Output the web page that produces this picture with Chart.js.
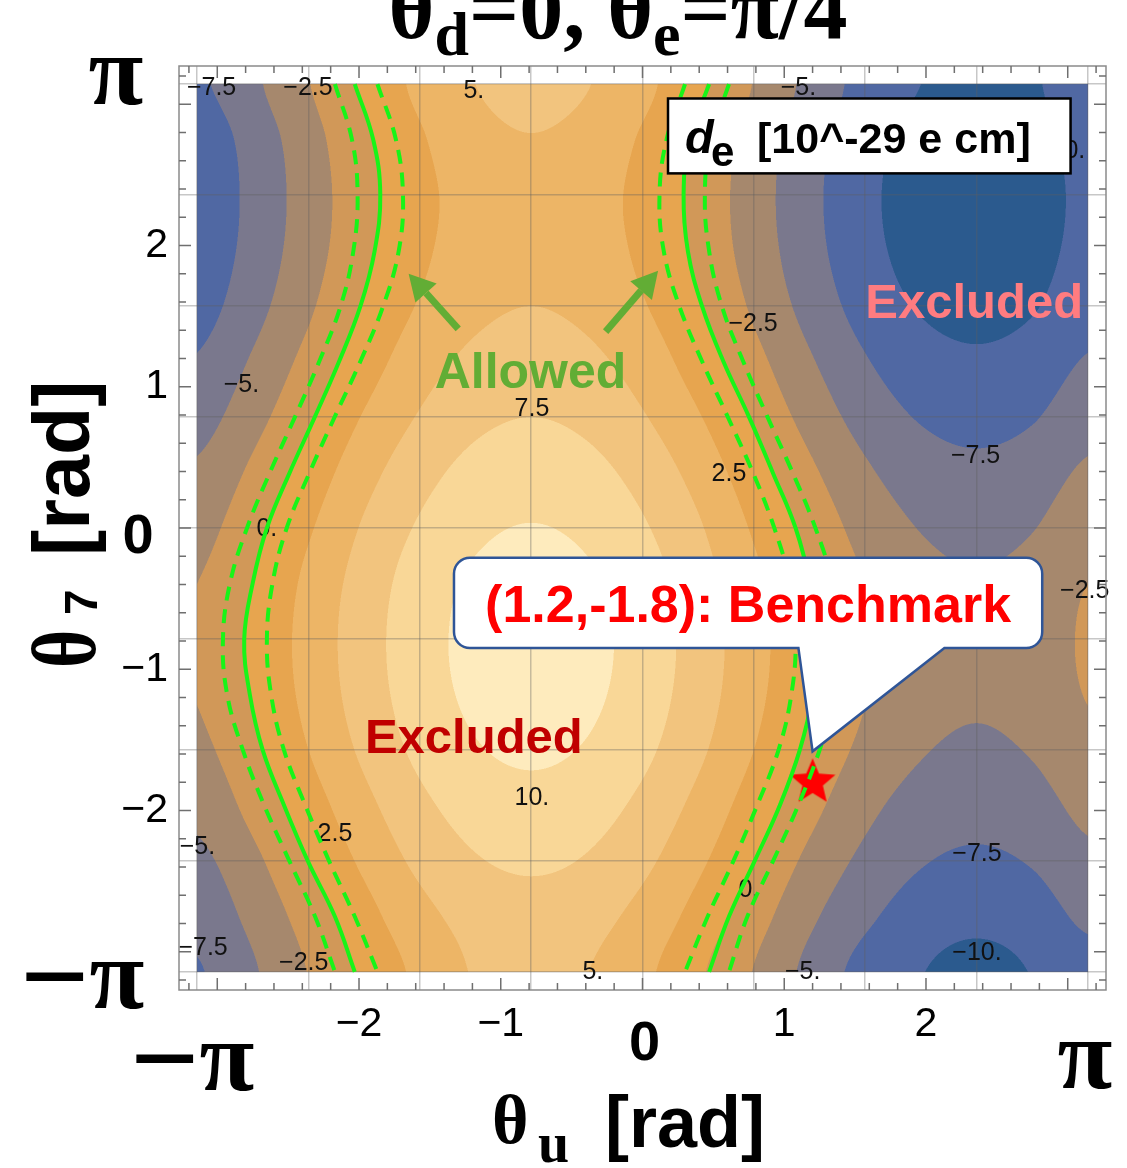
<!DOCTYPE html>
<html>
<head>
<meta charset="utf-8">
<title>d_e contours</title>
<script src="https://cdn.jsdelivr.net/npm/chart.js@4.4.1/dist/chart.umd.min.js"></script>
<style>
  html, body { margin: 0; padding: 0; background: #ffffff; }
  canvas { display: block; }
</style>
</head>
<body>
<canvas id="deChart" width="1127" height="1168"></canvas>
<script>
// ---- values ----
// grid nodes (rad): theta_u left -> right, theta_7 top -> bottom
const thetaU = [-3.1416, -2.75, -2.36, -1.96, -1.57, -1.18, -0.79, -0.39, 0, 0.39, 0.79, 1.18, 1.57, 1.96, 2.36, 2.75, 3.1416];
const theta7 = [3.1416, 2.75, 2.36, 1.96, 1.57, 1.18, 0.79, 0.39, 0, -0.39, -0.79, -1.18, -1.57, -1.96, -2.36, -2.75, -3.1416];

// d_e [10^-29 e cm] at the nodes, one row per theta_7 node
const deGrid = [
  [-7.9, -5.5, -2.6,  0.4, 3.1, 5.0,  5.7,  5.1, 3.2,  0.4, -2.6, -5.7, -8.4, -10.0, -11.0, -10.3, -8.4],
  [-9.1, -6.5, -3.5, -0.4, 2.2, 4.2,  4.9,  4.2, 2.2, -0.4, -3.5, -6.5, -9.1, -10.8, -11.4, -10.8, -9.1],
  [-9.4, -6.8, -3.8, -0.8, 1.8, 3.5,  4.1,  3.5, 1.8, -0.8, -3.8, -6.8, -9.4, -11.1, -11.7, -11.1, -9.4],
  [-9.2, -6.6, -3.6, -0.6, 2.0, 3.7,  4.3,  3.7, 2.0, -0.6, -3.6, -6.6, -9.2, -10.9, -11.5, -10.9, -9.2],
  [-8.5, -5.9, -2.9,  0.2, 2.7, 4.4,  5.0,  4.4, 2.7,  0.2, -2.9, -5.9, -8.5, -10.2, -10.8, -10.2, -8.5],
  [-7.3, -4.7, -1.7,  1.3, 3.9, 5.6,  6.2,  5.6, 3.9,  1.3, -1.7, -4.7, -7.3,  -9.0,  -9.6,  -9.0, -7.3],
  [-6.0, -3.4, -0.4,  2.7, 5.2, 6.9,  7.5,  6.9, 5.2,  2.7, -0.4, -3.4, -6.0,  -7.7,  -8.3,  -7.7, -6.0],
  [-4.6, -2.0,  1.0,  4.1, 6.6, 8.3,  8.9,  8.3, 6.6,  4.1,  1.0, -2.0, -4.6,  -6.3,  -6.9,  -6.3, -4.6],
  [-3.4, -0.8,  2.2,  5.3, 7.8, 9.5, 10.1,  9.5, 7.8,  5.3,  2.2, -0.8, -3.4,  -5.1,  -5.7,  -5.1, -3.4],
  [-2.5,  0.0,  3.1,  6.1, 8.7, 10.4, 11.0, 10.4, 8.7, 6.1,  3.1,  0.0, -2.5,  -4.2,  -4.8,  -4.2, -2.5],
  [-2.2,  0.4,  3.4,  6.4, 9.0, 10.7, 11.3, 10.7, 9.0, 6.4,  3.4,  0.4, -2.2,  -3.9,  -4.5,  -3.9, -2.2],
  [-2.4,  0.2,  3.2,  6.2, 8.8, 10.5, 11.1, 10.5, 8.8, 6.2,  3.2,  0.2, -2.4,  -4.1,  -4.7,  -4.1, -2.4],
  [-3.1, -0.6,  2.5,  5.5, 8.1, 9.8, 10.4,  9.8, 8.1,  5.5,  2.5, -0.6, -3.1,  -4.8,  -5.4,  -4.8, -3.1],
  [-4.3, -1.7,  1.3,  4.3, 6.9, 8.6,  9.2,  8.6, 6.9,  4.3,  1.3, -1.7, -4.3,  -6.0,  -6.6,  -6.0, -4.3],
  [-5.6, -3.1,  0.0,  3.0, 5.6, 7.3,  7.9,  7.3, 5.6,  3.0,  0.0, -3.1, -5.6,  -7.3,  -7.9,  -7.3, -5.6],
  [-6.7, -4.3, -1.4,  1.6, 4.2, 5.9,  6.5,  5.9, 4.2,  1.6, -1.4, -4.5, -7.0,  -8.7,  -9.3,  -8.7, -7.0],
  [-7.7, -5.3, -2.4,  0.5, 3.1, 5.2,  5.8,  5.05, 3.1, 0.4, -2.6, -5.7, -8.4,  -9.9, -10.9,  -9.9, -8.4]
];
const contourLevels = [-10, -7.5, -5, -2.5, 0, 2.5, 5, 7.5, 10];
const bandColors = ['#2b5a8e', '#5068a3', '#7a788d', '#a6886d', '#d19858', '#e7a54f', '#edb566', '#f2c47e', '#f9d797', '#feebbd'];

// allowed band: theta_u of the solid (d_e = 0) and dashed edges, one value per theta_7 node
const leftSolid  = [-2.03, -1.90, -1.85, -1.89, -1.99, -2.14, -2.31, -2.49, -2.65, -2.75, -2.81, -2.77, -2.68, -2.53, -2.36, -2.17, -2.03];
const leftInner  = [-1.87, -1.74, -1.69, -1.72, -1.83, -1.99, -2.17, -2.35, -2.51, -2.61, -2.65, -2.62, -2.53, -2.38, -2.21, -2.03, -1.87];
const leftOuter  = [-2.17, -2.05, -2.01, -2.04, -2.13, -2.28, -2.45, -2.63, -2.79, -2.91, -2.96, -2.93, -2.82, -2.67, -2.49, -2.31, -2.17];
const rightSolid = [0.47, 0.33, 0.29, 0.32, 0.42, 0.57, 0.75, 0.92, 1.08, 1.18, 1.23, 1.20, 1.11, 0.97, 0.79, 0.61, 0.47];
const rightInner = [0.30, 0.17, 0.12, 0.15, 0.26, 0.42, 0.60, 0.78, 0.93, 1.04, 1.08, 1.05, 0.96, 0.81, 0.64, 0.46, 0.30];
const rightOuter = [0.61, 0.48, 0.44, 0.47, 0.56, 0.71, 0.88, 1.06, 1.22, 1.34, 1.39, 1.36, 1.25, 1.10, 0.92, 0.74, 0.61];

const benchmarkU = [1.2];
const benchmarkT = [-1.8];

const xTickValues = [-2, -1, 1, 2];
const yTickValues = [-2, -1, 1, 2];
const gridValues = [-3.1416, -2.3562, -1.5708, -0.7854, 0, 0.7854, 1.5708, 2.3562, 3.1416];

// contour labels as placed by the plotting program
const labelText = ['−7.5', '−2.5', '5.', '−5.', '−10.', '−2.5', '−5.', '7.5', '2.5', '−7.5', '0.', '−2.5', '10.', '−5.', '2.5', '−7.5', '−2.5', '5.', '0.', '−7.5', '−10.', '−5.'];
const labelU = [-3.04, -2.36, -1.19, 1.10, 2.95, 0.78, -2.83, -0.78, 0.61, 2.35, -2.65, 3.12, -0.78, -3.14, -2.17, -3.10, -2.39, -0.35, 0.75, 2.36, 2.36, 1.13];
const labelT = [3.11, 3.11, 3.09, 3.11, 2.67, 1.44, 1.01, 0.84, 0.38, 0.51, -0.01, -0.45, -1.91, -2.26, -2.17, -2.97, -3.08, -3.14, -2.56, -2.31, -3.01, -3.14];

const SANS = '"Liberation Sans", Arial, sans-serif';
const SERIF = '"Liberation Serif", "Times New Roman", serif';
const GREEN = 'rgb(24, 244, 24)';

function curve(values, dashed) {
  return {
    data: theta7.map((t, k) => ({ x: values[k], y: t })),
    showLine: true,
    borderColor: GREEN,
    borderWidth: 4,
    borderDash: dashed ? [14, 9] : [],
    pointRadius: 0,
    tension: 0.4
  };
}

function starImage(r) {
  const size = Math.ceil(2 * r + 4);
  const c = document.createElement('canvas');
  c.width = size; c.height = size;
  const g = c.getContext('2d');
  g.fillStyle = '#ff0000';
  g.beginPath();
  for (let k = 0; k < 10; k++) {
    const a = -Math.PI / 2 + k * Math.PI / 5;
    const rr = k % 2 ? r * 0.45 : r;
    g.lineTo(size / 2 + rr * Math.cos(a), size / 2 + rr * Math.sin(a));
  }
  g.closePath();
  g.fill();
  return c;
}

// Catmull-Rom sampling of the node grid (edges clamped)
function crWeights(f) {
  const f2 = f * f, f3 = f2 * f;
  return [(-f3 + 2 * f2 - f) / 2, (3 * f3 - 5 * f2 + 2) / 2, (-3 * f3 + 4 * f2 + f) / 2, (f3 - f2) / 2];
}
function sampleGrid(gx, gy, n) {
  const ix = Math.min(n - 1, Math.floor(gx)), iy = Math.min(n - 1, Math.floor(gy));
  const wx = crWeights(gx - ix), wy = crWeights(gy - iy);
  const cl = i => Math.max(0, Math.min(n, i));
  let v = 0;
  for (let m = 0; m < 4; m++) {
    const row = deGrid[cl(iy + m - 1)];
    let s = 0;
    for (let q = 0; q < 4; q++) s += wx[q] * row[cl(ix + q - 1)];
    v += wy[m] * s;
  }
  return v;
}
function hexToRgb(h) {
  const n = parseInt(h.slice(1), 16);
  return [(n >> 16) & 255, (n >> 8) & 255, n & 255];
}

let fieldImage = null;
const contourFill = {
  id: 'contourFill',
  beforeDraw(chart) {
    const { ctx } = chart;
    const xs = chart.scales.x, ys = chart.scales.y;
    ctx.save();
    ctx.fillStyle = '#ffffff';
    ctx.fillRect(0, 0, chart.width, chart.height);
    const x0 = Math.round(xs.getPixelForValue(thetaU[0]));
    const x1 = Math.round(xs.getPixelForValue(thetaU[thetaU.length - 1]));
    const y0 = Math.round(ys.getPixelForValue(theta7[0]));
    const y1 = Math.round(ys.getPixelForValue(theta7[theta7.length - 1]));
    if (!fieldImage) {
      const w = x1 - x0, h = y1 - y0, n = thetaU.length - 1;
      const off = document.createElement('canvas');
      off.width = w; off.height = h;
      const g = off.getContext('2d');
      const img = g.createImageData(w, h);
      const rgb = bandColors.map(hexToRgb);
      const uSpan = thetaU[n] - thetaU[0], tSpan = theta7[0] - theta7[n];
      const sub = [0.25, 0.75];
      for (let py = 0; py < h; py++) {
        for (let px = 0; px < w; px++) {
          let r = 0, gg = 0, b = 0;
          for (const sy of sub) {
            const t = ys.getValueForPixel(y0 + py + sy);
            const gy = Math.max(0, Math.min(n, (theta7[0] - t) / tSpan * n));
            for (const sx of sub) {
              const u = xs.getValueForPixel(x0 + px + sx);
              const gx = Math.max(0, Math.min(n, (u - thetaU[0]) / uSpan * n));
              const v = sampleGrid(gx, gy, n);
              let k = 0;
              while (k < contourLevels.length && v >= contourLevels[k]) k++;
              r += rgb[k][0]; gg += rgb[k][1]; b += rgb[k][2];
            }
          }
          const o = (py * w + px) * 4;
          img.data[o] = r / 4; img.data[o + 1] = gg / 4; img.data[o + 2] = b / 4; img.data[o + 3] = 255;
        }
      }
      g.putImageData(img, 0, 0);
      fieldImage = off;
    }
    ctx.drawImage(fieldImage, x0, y0);
    ctx.restore();
  }
};

const contourLabels = {
  id: 'contourLabels',
  beforeDatasetsDraw(chart) {
    const { ctx } = chart;
    const xs = chart.scales.x, ys = chart.scales.y;
    ctx.save();
    ctx.font = `25px ${SANS}`;
    ctx.fillStyle = '#111111';
    ctx.textAlign = 'center';
    ctx.textBaseline = 'middle';
    labelText.forEach((s, k) => ctx.fillText(s, xs.getPixelForValue(labelU[k]), ys.getPixelForValue(labelT[k])));
    ctx.restore();
  }
};

function drawPieces(ctx, pieces, x, y) {
  let cx = x;
  for (const p of pieces) {
    ctx.font = p[1];
    ctx.fillText(p[0], cx, y + (p[2] || 0));
    cx += ctx.measureText(p[0]).width;
  }
  return cx;
}
function piecesWidth(ctx, pieces) {
  let w = 0;
  for (const p of pieces) { ctx.font = p[1]; w += ctx.measureText(p[0]).width; }
  return w;
}
function arrow(ctx, x0, y0, x1, y1, lw, head) {
  const a = Math.atan2(y1 - y0, x1 - x0);
  const bx = x1 - head * Math.cos(a), by = y1 - head * Math.sin(a);
  const hw = head * 0.55;
  ctx.lineWidth = lw;
  ctx.beginPath(); ctx.moveTo(x0, y0); ctx.lineTo(bx, by); ctx.stroke();
  ctx.beginPath();
  ctx.moveTo(x1, y1);
  ctx.lineTo(bx + hw * Math.sin(a), by - hw * Math.cos(a));
  ctx.lineTo(bx - hw * Math.sin(a), by + hw * Math.cos(a));
  ctx.closePath(); ctx.fill();
}

const overlay = {
  id: 'overlay',
  afterDraw(chart) {
    const { ctx, chartArea: a } = chart;
    const xs = chart.scales.x, ys = chart.scales.y;
    const X = v => xs.getPixelForValue(v), Y = v => ys.getPixelForValue(v);
    ctx.save();

    // frame with inward ticks on all four sides
    ctx.strokeStyle = '#8a8a8a';
    ctx.lineWidth = 1.5;
    ctx.strokeRect(a.left, a.top, a.right - a.left, a.bottom - a.top);
    ctx.strokeStyle = '#6f6f6f';
    ctx.beginPath();
    for (let k = -16; k <= 16; k++) {
      const v = k / 5, len = k % 5 === 0 ? 12 : 7;
      ctx.moveTo(X(v), a.bottom); ctx.lineTo(X(v), a.bottom - len);
      ctx.moveTo(X(v), a.top); ctx.lineTo(X(v), a.top + len);
      ctx.moveTo(a.left, Y(v)); ctx.lineTo(a.left + len, Y(v));
      ctx.moveTo(a.right, Y(v)); ctx.lineTo(a.right - len, Y(v));
    }
    ctx.stroke();

    ctx.fillStyle = '#000000';
    ctx.textBaseline = 'alphabetic';

    // title (top part cut off by the page edge)
    const title = [['θ', `bold 88px ${SERIF}`], ['d', `bold 62px ${SERIF}`, 17], ['=0, θ', `bold 88px ${SERIF}`], ['e', `bold 62px ${SERIF}`, 17], ['=π/4', `bold 88px ${SERIF}`]];
    ctx.textAlign = 'left';
    drawPieces(ctx, title, 618 - piecesWidth(ctx, title) / 2, 38);

    // big pi labels and bold zeros
    ctx.font = `bold 100px ${SERIF}`;
    ctx.textAlign = 'center';
    ctx.fillText('π', 116, 104);
    ctx.fillText('π', 1085, 1088);
    ctx.textAlign = 'left';
    drawPieces(ctx, [['−', `bold 122px ${SERIF}`, 9], ['π', `bold 100px ${SERIF}`]], 20, 1008);
    drawPieces(ctx, [['−', `bold 122px ${SERIF}`, 9], ['π', `bold 100px ${SERIF}`]], 130, 1090);
    ctx.font = `bold 56px ${SANS}`;
    ctx.textAlign = 'center';
    ctx.fillText('0', X(0) + 2, 1060);
    ctx.fillText('0', 138, 553);

    // axis titles
    ctx.textAlign = 'left';
    ctx.font = `bold 70px ${SERIF}`;
    ctx.fillText('θ', 492, 1143);
    ctx.font = `bold 56px ${SERIF}`;
    ctx.fillText('u', 538, 1162);
    ctx.font = `bold 72px ${SANS}`;
    ctx.fillText('[rad]', 605, 1147);

    ctx.save();
    ctx.translate(0, 668);
    ctx.rotate(-Math.PI / 2);
    ctx.save();
    ctx.scale(0.8, 1);
    ctx.font = `bold 92px ${SERIF}`;
    ctx.fillText('θ', 0, 95);
    ctx.restore();
    ctx.font = `bold 46px ${SANS}`;
    ctx.fillText('7', 53, 97);
    ctx.font = `bold 79px ${SANS}`;
    ctx.fillText('[rad]', 112, 89);
    ctx.restore();

    // legend box
    const lx0 = X(0.18), lx1 = X(3.02), ly0 = Y(3.04), ly1 = Y(2.51);
    ctx.fillStyle = '#ffffff';
    ctx.fillRect(lx0, ly0, lx1 - lx0, ly1 - ly0);
    ctx.strokeStyle = '#000000';
    ctx.lineWidth = 2.5;
    ctx.strokeRect(lx0, ly0, lx1 - lx0, ly1 - ly0);
    ctx.fillStyle = '#000000';
    ctx.font = `italic bold 47px ${SANS}`;
    ctx.fillText('d', lx0 + 17, ly0 + 55);
    ctx.font = `bold 42px ${SANS}`;
    ctx.fillText('e', lx0 + 43, ly0 + 68);
    ctx.font = `bold 43px ${SANS}`;
    ctx.fillText('[10^-29 e cm]', lx0 + 89, ly0 + 55);

    // callout pointing at the benchmark star
    const cL = X(-1.33), cR = X(2.82), cT = Y(-0.21), cB = Y(-0.85), rad = 16;
    const tipX = X(benchmarkU[0]), tipY = Y(benchmarkT[0]) - 31;
    const b1 = X(1.10), b2 = X(2.13);
    ctx.beginPath();
    ctx.moveTo(cL + rad, cT);
    ctx.lineTo(cR - rad, cT);
    ctx.arcTo(cR, cT, cR, cT + rad, rad);
    ctx.lineTo(cR, cB - rad);
    ctx.arcTo(cR, cB, cR - rad, cB, rad);
    ctx.lineTo(b2, cB);
    ctx.lineTo(tipX, tipY);
    ctx.lineTo(b1, cB);
    ctx.lineTo(cL + rad, cB);
    ctx.arcTo(cL, cB, cL, cB - rad, rad);
    ctx.lineTo(cL, cT + rad);
    ctx.arcTo(cL, cT, cL + rad, cT, rad);
    ctx.closePath();
    ctx.fillStyle = '#ffffff';
    ctx.fill();
    ctx.strokeStyle = '#2f5597';
    ctx.lineWidth = 2.5;
    ctx.stroke();
    ctx.fillStyle = '#ff0000';
    ctx.font = `bold 52px ${SANS}`;
    ctx.textAlign = 'center';
    ctx.fillText('(1.2,-1.8): Benchmark', (cL + cR) / 2, Y(-0.665));

    // region annotations
    ctx.fillStyle = '#62ad35';
    ctx.strokeStyle = '#62ad35';
    ctx.font = `bold 50px ${SANS}`;
    ctx.fillText('Allowed', X(-0.79), Y(0.99));
    arrow(ctx, X(-1.30), Y(1.41), X(-1.65), Y(1.80), 7, 26);
    arrow(ctx, X(-0.26), Y(1.39), X(0.11), Y(1.82), 7, 26);
    ctx.font = `bold 49px ${SANS}`;
    ctx.fillStyle = '#ff7c80';
    ctx.fillText('Excluded', X(2.34), Y(1.485));
    ctx.fillStyle = '#c00000';
    ctx.fillText('Excluded', X(-1.19), Y(-1.59));

    ctx.restore();
  }
};

const tickFont = { family: 'Liberation Sans', size: 41 };
const minus = v => (v < 0 ? '−' + Math.abs(v) : String(v));

new Chart(document.getElementById('deChart'), {
  type: 'scatter',
  data: {
    datasets: [
      curve(leftOuter, true), curve(leftInner, true), curve(leftSolid, false),
      curve(rightOuter, true), curve(rightInner, true), curve(rightSolid, false),
      {
        data: benchmarkU.map((u, k) => ({ x: u, y: benchmarkT[k] })),
        pointStyle: starImage(24),
        pointRadius: 12,
        showLine: false
      }
    ]
  },
  options: {
    responsive: false,
    animation: false,
    events: [],
    layout: { padding: { left: 0, right: 21, top: 66, bottom: 0 } },
    plugins: { legend: { display: false }, tooltip: { enabled: false } },
    scales: {
      x: {
        type: 'linear', position: 'bottom', min: -3.27, max: 3.27,
        afterBuildTicks: s => { s.ticks = xTickValues.map(v => ({ value: v })); },
        afterFit: s => { s.height = 178; },
        grid: { display: false, drawTicks: false },
        border: { display: false },
        ticks: { font: tickFont, color: '#000', padding: 10, autoSkip: false, maxRotation: 0, callback: minus }
      },
      y: {
        type: 'linear', position: 'left', min: -3.27, max: 3.27,
        afterBuildTicks: s => { s.ticks = yTickValues.map(v => ({ value: v })); },
        afterFit: s => { s.width = 179; },
        grid: { display: false, drawTicks: false },
        border: { display: false },
        ticks: { font: tickFont, color: '#000', padding: 11, autoSkip: false, callback: minus }
      },
      xg: {
        type: 'linear', position: 'top', min: -3.27, max: 3.27,
        afterBuildTicks: s => { s.ticks = gridValues.map(v => ({ value: v })); },
        afterFit: s => { s.height = 0; },
        grid: { color: 'rgba(95, 95, 95, 0.35)', lineWidth: 1.5, drawTicks: false },
        border: { display: false },
        ticks: { display: false }
      },
      yg: {
        type: 'linear', position: 'right', min: -3.27, max: 3.27,
        afterBuildTicks: s => { s.ticks = gridValues.map(v => ({ value: v })); },
        afterFit: s => { s.width = 0; },
        grid: { color: 'rgba(95, 95, 95, 0.35)', lineWidth: 1.5, drawTicks: false },
        border: { display: false },
        ticks: { display: false }
      }
    }
  },
  plugins: [contourFill, contourLabels, overlay]
});
</script>
</body>
</html>
